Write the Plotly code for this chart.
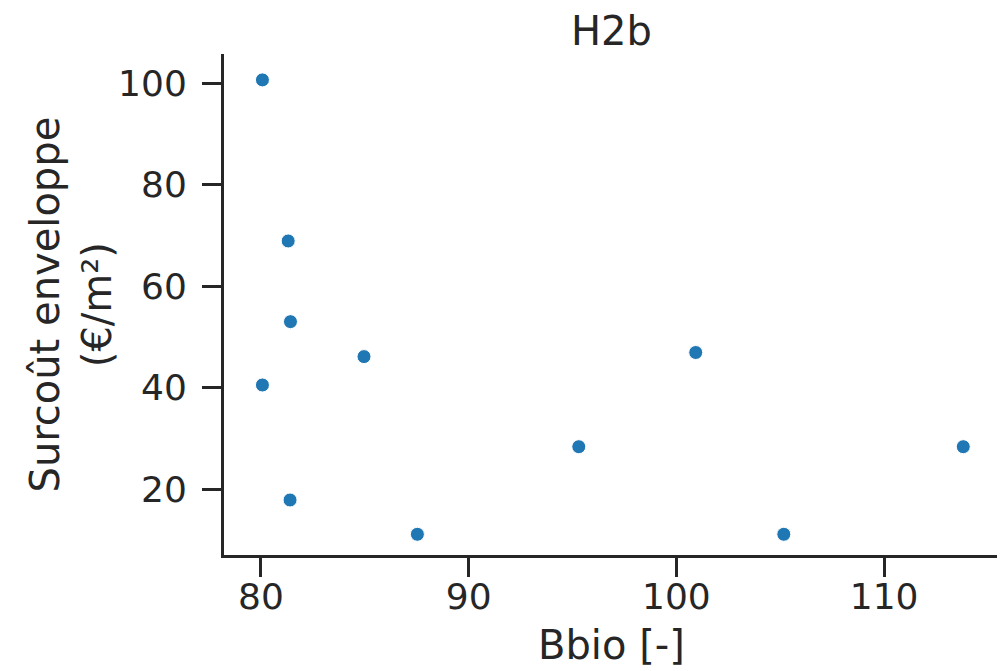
import plotly.graph_objects as go

# Data
bbio = [80.07, 81.31, 81.42, 84.96, 80.07, 81.40, 87.53, 95.30, 100.93, 105.17, 113.81]
surcout = [100.67, 68.93, 53.03, 46.14, 40.55, 17.89, 11.13, 28.39, 46.95, 11.13, 28.39]

x_ticks = [80, 90, 100, 110]
y_ticks = [20, 40, 60, 80, 100]

title_text = "H2b"
x_title = "Bbio [-]"
y_title = "Surcoût enveloppe<br>(€/m²)"

ink = "#262626"
font_family = "DejaVu Sans"

fig = go.Figure()
fig.add_trace(go.Scatter(
    x=bbio, y=surcout, mode="markers",
    marker=dict(size=14, color="#1f77b4", line=dict(color="white", width=1)),
    showlegend=False,
))

# page body has an 8px margin, so the figure is sized to fill the remaining window
fig.update_layout(
    width=997, height=663,
    margin=dict(l=216, r=6, t=46, b=116, autoexpand=False),
    paper_bgcolor="white", plot_bgcolor="white",
    font=dict(family=font_family, color=ink, size=36),
    title=dict(text=title_text, x=0.6053, xanchor="center", y=0.966, yanchor="middle",
               font=dict(size=40, family=font_family, color=ink)),
)

axis_common = dict(
    showline=True, linecolor=ink, linewidth=3, mirror=False,
    showgrid=False, zeroline=False, automargin=False,
    ticks="outside", ticklen=19, tickwidth=3, tickcolor=ink,
    tickfont=dict(size=36, family=font_family, color=ink),
)

fig.update_xaxes(
    range=[78.22, 115.53], tickvals=x_ticks, ticktext=[str(t) for t in x_ticks],
    ticklabelstandoff=-11,
    **axis_common,
)
fig.update_yaxes(
    range=[7.05, 105.77], tickvals=y_ticks, ticktext=[str(t) for t in y_ticks],
    ticklabelstandoff=8,
    **axis_common,
)

fig.add_annotation(
    text=x_title, xref="paper", yref="paper", x=0.5, y=-90 / 501,
    xanchor="center", yanchor="middle", showarrow=False,
    font=dict(size=40, family=font_family, color=ink),
)
fig.add_annotation(
    text=y_title, xref="paper", yref="paper", x=-154 / 775, y=0.5,
    xanchor="center", yanchor="middle", showarrow=False, textangle=-90,
    font=dict(size=40, family=font_family, color=ink),
)

fig.write_html("out.html")
